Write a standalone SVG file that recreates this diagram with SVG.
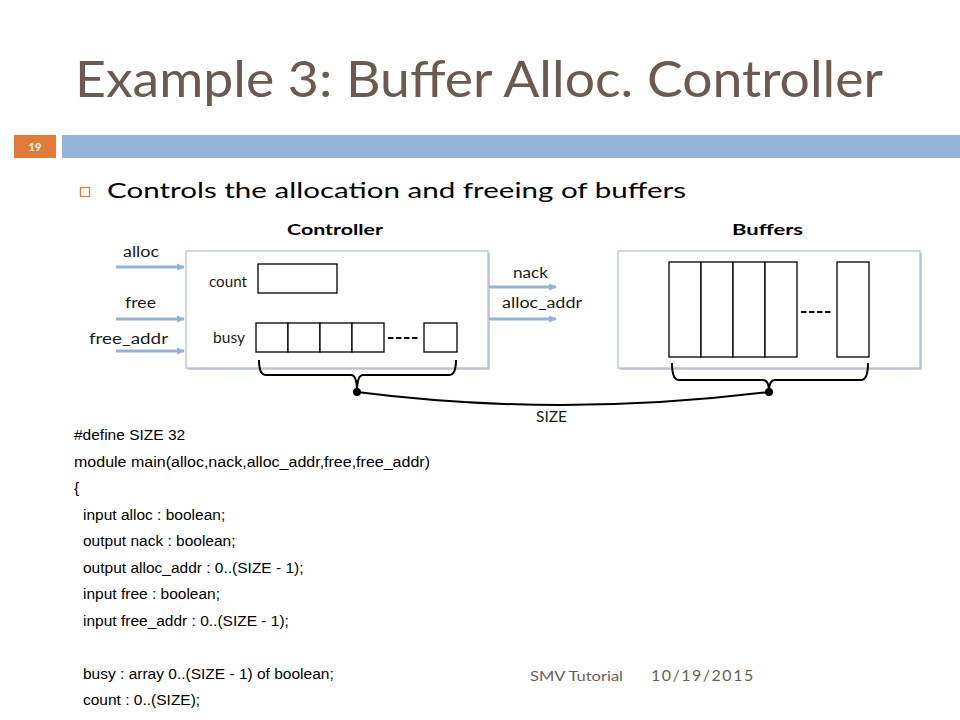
<svg xmlns="http://www.w3.org/2000/svg" width="960" height="720" viewBox="0 0 960 720">
<defs>
<style>
.tw{font-family:Lato,"Open Sans","Liberation Sans",sans-serif}
.code{font-family:"Liberation Sans",Arial,sans-serif;font-size:15.5px;fill:#000}
.lbl{font-family:Lato,"Open Sans","Liberation Sans",sans-serif;font-size:14.5px;fill:#1a1a1a}
.cell{fill:#fff;stroke:#000;stroke-width:1.3}
.box{fill:#fff;stroke:#a9bfdc;stroke-width:1.2}
.sh{fill:#d0d0d0}
.arr{stroke:#95b3d7;stroke-width:3;fill:none;marker-end:url(#ah)}
.br{stroke:#000;stroke-width:2;fill:none}
</style>
<marker id="ah" viewBox="0 0 10 10" refX="8" refY="5" markerWidth="3" markerHeight="3" orient="auto" markerUnits="strokeWidth">
<path d="M0,1 L9,5 L0,9 z" fill="#95b3d7"/>
</marker>
</defs>
<rect width="960" height="720" fill="#fff"/>
<text class="tw" x="75" y="97" font-size="50" fill="#6b5a52" textLength="808" lengthAdjust="spacingAndGlyphs">Example 3: Buffer Alloc. Controller</text>
<rect x="14" y="135" width="42" height="23" fill="#e07b39"/>
<text class="tw" x="35" y="151" font-size="11" font-weight="bold" fill="#fff" text-anchor="middle">19</text>
<rect x="62" y="135" width="898" height="23" fill="#95b3d7"/>
<rect x="80.5" y="187.5" width="9" height="9" fill="#fff" stroke="#e07b39" stroke-width="1.3"/>
<text class="tw" x="107" y="198" font-size="22" fill="#000" textLength="579" lengthAdjust="spacingAndGlyphs">Controls the allocation and freeing of buffers</text>

<text class="tw" x="287" y="235" font-size="16" font-weight="bold" fill="#000" textLength="96" lengthAdjust="spacingAndGlyphs">Controller</text>
<text class="tw" x="732" y="235" font-size="16" font-weight="bold" fill="#000" textLength="71" lengthAdjust="spacingAndGlyphs">Buffers</text>

<g id="controller">
<rect class="sh" x="188" y="253" width="302" height="117"/>
<rect class="box" x="186" y="251" width="302" height="117"/>
<text class="lbl" x="209" y="287" textLength="38" lengthAdjust="spacingAndGlyphs">count</text>
<rect class="cell" x="258" y="264" width="79" height="29"/>
<text class="lbl" x="213" y="343" textLength="32" lengthAdjust="spacingAndGlyphs">busy</text>
<rect class="cell" x="256" y="323" width="32" height="29"/>
<rect class="cell" x="288" y="323" width="32" height="29"/>
<rect class="cell" x="320" y="323" width="32" height="29"/>
<rect class="cell" x="352" y="323" width="32" height="29"/>
<line x1="388" y1="338" x2="418" y2="338" stroke="#000" stroke-width="2" stroke-dasharray="5.5,2.5"/>
<rect class="cell" x="424" y="323" width="33" height="29"/>
</g>

<g id="buffers">
<rect class="sh" x="620" y="253" width="302" height="117"/>
<rect class="box" x="618" y="251" width="302" height="117"/>
<rect class="cell" x="669" y="262" width="32" height="95"/>
<rect class="cell" x="701" y="262" width="32" height="95"/>
<rect class="cell" x="733" y="262" width="32" height="95"/>
<rect class="cell" x="765" y="262" width="32" height="95"/>
<line x1="801" y1="312" x2="831" y2="312" stroke="#000" stroke-width="2" stroke-dasharray="5.5,2.5"/>
<rect class="cell" x="837" y="262" width="32" height="95"/>
</g>

<g id="connectors">
<line class="arr" x1="116" y1="267" x2="184" y2="267"/>
<line class="arr" x1="116" y1="319" x2="184" y2="319"/>
<line class="arr" x1="116" y1="351" x2="184" y2="351"/>
<line class="arr" x1="489" y1="287" x2="556" y2="287"/>
<line class="arr" x1="489" y1="319" x2="556" y2="319"/>
<text class="lbl" x="123" y="257" textLength="36" lengthAdjust="spacingAndGlyphs">alloc</text>
<text class="lbl" x="125" y="308" textLength="31" lengthAdjust="spacingAndGlyphs">free</text>
<text class="lbl" x="89" y="344" textLength="79" lengthAdjust="spacingAndGlyphs">free_addr</text>
<text class="lbl" x="513" y="278" textLength="35" lengthAdjust="spacingAndGlyphs">nack</text>
<text class="lbl" x="502" y="308" textLength="80" lengthAdjust="spacingAndGlyphs">alloc_addr</text>
<path class="br" d="M259,360 Q259,375 266,375 L351,375 Q357,375 357,392 Q357,375 363,375 L449,375 Q456,375 456,360"/>
<path class="br" d="M672,363 Q672,380 679,380 L763,380 Q769,380 769,392 Q769,380 775,380 L861,380 Q868,380 868,363"/>
<circle cx="357" cy="392" r="4" fill="#000"/>
<circle cx="769" cy="392" r="4" fill="#000"/>
<path class="br" d="M357,392 Q560,418 769,392"/>
<text class="lbl" x="536" y="422" font-size="13.5" textLength="31" lengthAdjust="spacingAndGlyphs">SIZE</text>
</g>

<g id="code">
<text class="code" x="74" y="440">#define SIZE 32</text>
<text class="code" x="74" y="466.5" textLength="356" lengthAdjust="spacingAndGlyphs">module main(alloc,nack,alloc_addr,free,free_addr)</text>
<text class="code" x="74" y="493">{</text>
<text class="code" x="83" y="519.5">input alloc : boolean;</text>
<text class="code" x="83" y="546">output nack : boolean;</text>
<text class="code" x="83" y="572.5">output alloc_addr : 0..(SIZE - 1);</text>
<text class="code" x="83" y="599">input free : boolean;</text>
<text class="code" x="83" y="625.5">input free_addr : 0..(SIZE - 1);</text>
<text class="code" x="83" y="678.5">busy : array 0..(SIZE - 1) of boolean;</text>
<text class="code" x="83" y="705">count : 0..(SIZE);</text>
</g>

<text class="tw" x="530" y="681" font-size="14" fill="#6b5f58" textLength="93" lengthAdjust="spacingAndGlyphs">SMV Tutorial</text>
<text class="tw" x="651" y="681" font-size="16" fill="#6b5f58" letter-spacing="1.5">10/19/2015</text>
</svg>
